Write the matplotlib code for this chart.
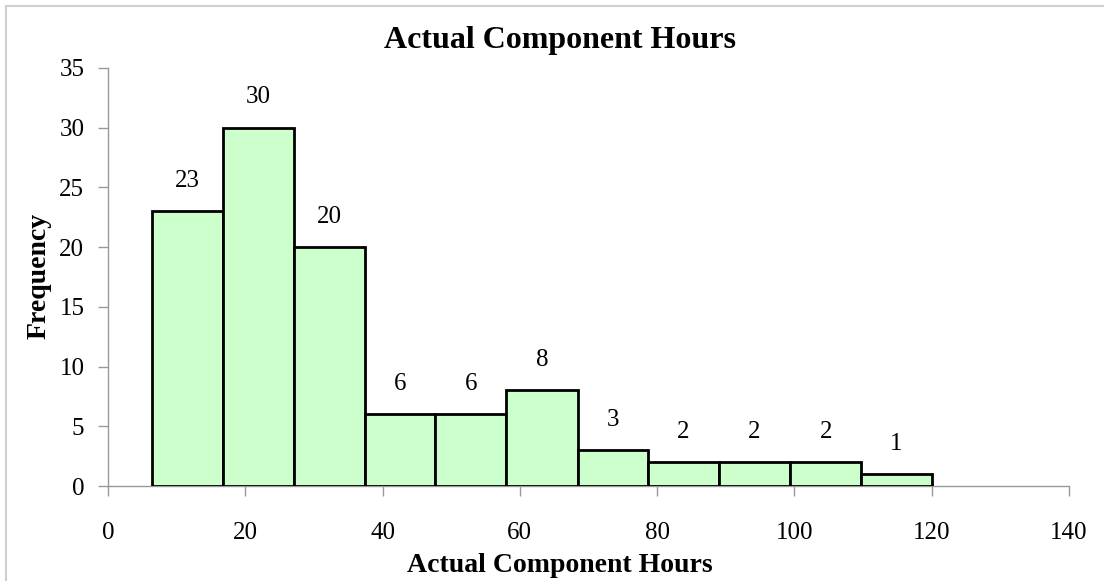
import matplotlib
matplotlib.use("Agg")
import matplotlib.pyplot as plt
import numpy as np

# bin edges (hours) and counts
bin_edges = [6.4, 16.7, 27.1, 37.4, 47.7, 58.0, 68.4, 78.7, 89.0, 99.4, 109.7, 120.0]
counts = [23, 30, 20, 6, 6, 8, 3, 2, 2, 2, 1]
x_ticks = [0, 20, 40, 60, 80, 100, 120, 140]
y_ticks = [0, 5, 10, 15, 20, 25, 30, 35]

plt.rcParams["font.family"] = ["Liberation Serif", "DejaVu Serif"]

fig = plt.figure(figsize=(11.04, 5.81), dpi=100)
ax = fig.add_axes([0.0978, 0.1635, 0.8705, 0.7195])

edges = np.array(bin_edges)
lefts = edges[:-1]
widths = np.diff(edges)
ax.bar(lefts, counts, width=widths, align="edge", color="#CCFFCC",
       edgecolor="black", linewidth=2, zorder=3)

for l, w, c in zip(lefts, widths, counts):
    ax.annotate(str(c), (l + w / 2, c), xytext=(0, 14), textcoords="offset points",
                ha="center", va="bottom", fontsize=18)

ax.set_xlim(0, 140)
ax.set_ylim(0, 35)
ax.set_xticks(x_ticks)
ax.set_yticks(y_ticks)
ax.tick_params(labelsize=18, color="#999999", length=7, width=1)
ax.tick_params(axis="x", pad=19)
ax.tick_params(axis="y", pad=10)
for s in ["top", "right"]:
    ax.spines[s].set_visible(False)
for s in ["left", "bottom"]:
    ax.spines[s].set_color("#999999")
    ax.spines[s].set_linewidth(1)

fig.text(0.507, 0.93, "Actual Component Hours", fontsize=23, fontweight="bold",
         ha="center", va="center")
fig.text(0.507, 0.027, "Actual Component Hours", fontsize=20, fontweight="bold",
         ha="center", va="center")
fig.text(0.035, 0.525, "Frequency", fontsize=20, fontweight="bold",
         ha="center", va="center", rotation=90)

# chart frame (only top and left edges visible in the crop)
fig.add_artist(plt.Line2D([0.005, 1.0], [0.99, 0.99], color="#D0D0D0", lw=1.5))
fig.add_artist(plt.Line2D([0.005, 0.005], [0.0, 0.99], color="#D0D0D0", lw=1.5))

fig.savefig("out.png", dpi=100)
